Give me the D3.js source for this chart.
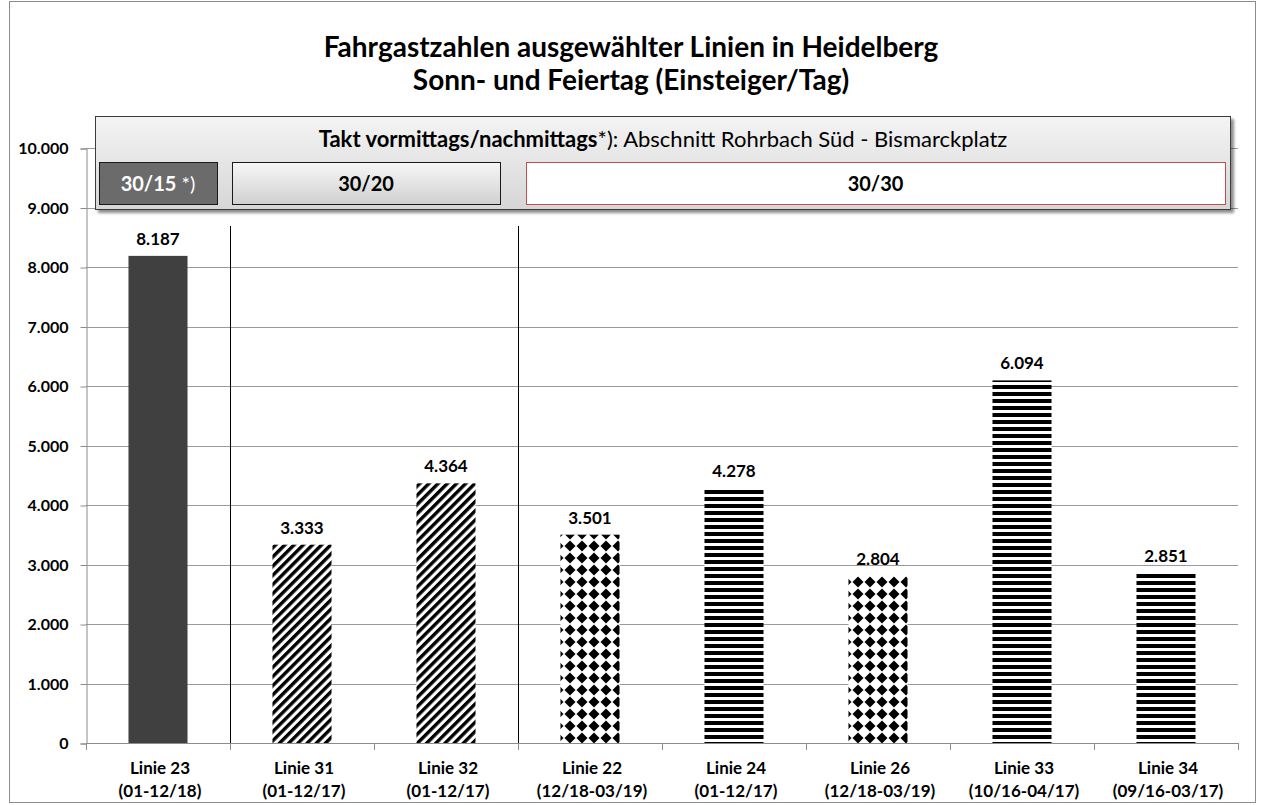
<!DOCTYPE html>
<html>
<head>
<meta charset="utf-8">
<script src="https://cdn.jsdelivr.net/npm/d3@7"></script>
<style>
    body { margin: 0; background: #fff; }
    text { font-family: Lato, "Open Sans", sans-serif; }
</style>
</head>
<body>
<script>
var linien = ["Linie 23", "Linie 31", "Linie 32", "Linie 22", "Linie 24", "Linie 26", "Linie 33", "Linie 34"];
var zeitraum = ["(01-12/18)", "(01-12/17)", "(01-12/17)", "(12/18-03/19)", "(01-12/17)", "(12/18-03/19)", "(10/16-04/17)", "(09/16-03/17)"];
var einsteiger = [8187, 3333, 4364, 3501, 4278, 2804, 6094, 2851];
var yTicks = [0, 1000, 2000, 3000, 4000, 5000, 6000, 7000, 8000, 9000, 10000];
var taktGruppen = ["30/15", "30/20", "30/30"];
var taktHinweis = [" *)", "", ""];
var taktVon = [0, 1, 3];

function graficar() {
    var width = 1262;
    var height = 805;

    var svg = d3.select('body')
        .append('svg')
        .attr('width', width)
        .attr('height', height);

    var defs = svg.append('defs');

    // Muster wie im Excel-Diagramm
    var diag = defs.append('pattern')
        .attr('id', 'diag')
        .attr('patternUnits', 'userSpaceOnUse')
        .attr('width', 6.5).attr('height', 10)
        .attr('patternTransform', 'rotate(45)');
    diag.append('rect').attr('width', 6.5).attr('height', 10).attr('fill', '#fff');
    diag.append('rect').attr('x', 0).attr('width', 3.4).attr('height', 10).attr('fill', '#000');

    var raute = defs.append('pattern')
        .attr('id', 'raute')
        .attr('patternUnits', 'userSpaceOnUse')
        .attr('width', 12).attr('height', 12);
    raute.append('rect').attr('width', 12).attr('height', 12).attr('fill', '#fff');
    raute.append('path').attr('d', 'M6,0.5 L11.5,6 L6,11.5 L0.5,6 Z').attr('fill', '#000');

    var horiz = defs.append('pattern')
        .attr('id', 'horiz')
        .attr('patternUnits', 'userSpaceOnUse')
        .attr('width', 8).attr('height', 7);
    horiz.append('rect').attr('width', 8).attr('height', 7).attr('fill', '#fff');
    horiz.append('rect').attr('y', 0).attr('width', 8).attr('height', 4).attr('fill', '#000');

    var grad = defs.append('linearGradient')
        .attr('id', 'kopf')
        .attr('x1', 0).attr('y1', 0).attr('x2', 0).attr('y2', 1);
    grad.append('stop').attr('offset', '0%').attr('stop-color', '#f4f4f4');
    grad.append('stop').attr('offset', '100%').attr('stop-color', '#d6d6d6');

    var grad2 = defs.append('linearGradient')
        .attr('id', 'knopf')
        .attr('x1', 0).attr('y1', 0).attr('x2', 0).attr('y2', 1);
    grad2.append('stop').attr('offset', '0%').attr('stop-color', '#f7f7f7');
    grad2.append('stop').attr('offset', '100%').attr('stop-color', '#d0d0d0');

    var schatten = defs.append('filter').attr('id', 'schatten')
        .attr('x', '-5%').attr('y', '-10%').attr('width', '110%').attr('height', '130%');
    schatten.append('feDropShadow')
        .attr('dx', 3).attr('dy', 3).attr('stdDeviation', 1.5)
        .attr('flood-color', '#000').attr('flood-opacity', 0.45);

    var fuellung = {
        "Linie 23": "#404040",
        "Linie 31": "url(#diag)",
        "Linie 32": "url(#diag)",
        "Linie 22": "url(#raute)",
        "Linie 24": "url(#horiz)",
        "Linie 26": "url(#raute)",
        "Linie 33": "url(#horiz)",
        "Linie 34": "url(#horiz)"
    };

    // Rahmen
    svg.append('rect')
        .attr('x', 9.5).attr('y', 1.5)
        .attr('width', 1246).attr('height', 801)
        .attr('fill', 'none')
        .attr('stroke', '#8c8c8c');

    var x = d3.scaleBand()
        .domain(linien)
        .range([86, 1238])
        .paddingInner(0.59)
        .paddingOuter(0.295);

    var y = d3.scaleLinear()
        .domain([0, 10000])
        .range([743, 148]);

    var de = d3.formatLocale({ decimal: ",", thousands: ".", grouping: [3], currency: ["", " €"] });
    var fmt = de.format(",d");

    // Gitterlinien
    svg.append('g')
        .selectAll('line')
        .data(yTicks.filter(function (d) { return d > 0; }))
        .enter().append('line')
        .attr('x1', 86).attr('x2', 1238)
        .attr('y1', function (d) { return Math.round(y(d)) + 0.5; })
        .attr('y2', function (d) { return Math.round(y(d)) + 0.5; })
        .attr('stroke', '#9a9a9a');

    // Achsen
    var yAxis = svg.append('g')
        .attr('transform', 'translate(86.5,0.5)')
        .call(d3.axisLeft(y).tickValues(yTicks).tickFormat(fmt).tickSize(6).tickPadding(12));
    yAxis.select('.domain').attr('stroke', '#8c8c8c');
    yAxis.selectAll('.tick line').attr('stroke', '#8c8c8c');
    yAxis.selectAll('text')
        .attr('fill', '#000')
        .style('font-size', '16px').style('font-weight', 'bold')
        .style('font-family', 'Lato, sans-serif');

    svg.append('line')
        .attr('x1', 86).attr('x2', 1238)
        .attr('y1', 743.5).attr('y2', 743.5)
        .attr('stroke', '#8c8c8c');

    var grenzen = linien.map(function (d) { return x(d) - x.step() * x.paddingInner() / 2; });
    grenzen.push(1238);
    svg.append('g')
        .selectAll('line')
        .data(grenzen)
        .enter().append('line')
        .attr('x1', function (d) { return Math.round(d) + 0.5; })
        .attr('x2', function (d) { return Math.round(d) + 0.5; })
        .attr('y1', 743).attr('y2', 750)
        .attr('stroke', '#8c8c8c');

    // Trennlinien zwischen Taktgruppen
    svg.append('g')
        .selectAll('line')
        .data(taktVon.slice(1))
        .enter().append('line')
        .attr('x1', function (d) { return Math.round(grenzen[d]) + 0.5; })
        .attr('x2', function (d) { return Math.round(grenzen[d]) + 0.5; })
        .attr('y1', 226).attr('y2', 743)
        .attr('stroke', '#000');

    // Balken
    svg.append('g')
        .selectAll('rect')
        .data(einsteiger)
        .enter().append('rect')
        .attr('x', function (d, i) { return x(linien[i]); })
        .attr('width', x.bandwidth())
        .attr('y', function (d) { return y(d); })
        .attr('height', function (d) { return y(0) - y(d); })
        .attr('fill', function (d, i) { return fuellung[linien[i]]; });

    svg.append('g')
        .selectAll('text')
        .data(einsteiger)
        .enter().append('text')
        .attr('x', function (d, i) { return x(linien[i]) + x.bandwidth() / 2; })
        .attr('y', function (d) { return y(d) - 11; })
        .attr('text-anchor', 'middle')
        .attr('font-size', 17)
        .attr('font-weight', 'bold')
        .text(function (d) { return fmt(d); });

    // Kategorien
    var kat = svg.append('g')
        .selectAll('text')
        .data(linien)
        .enter().append('text')
        .attr('x', function (d) { return x(d) + x.bandwidth() / 2 + 2; })
        .attr('y', 774)
        .attr('text-anchor', 'middle')
        .attr('font-size', 17)
        .attr('font-weight', 'bold');
    kat.append('tspan').text(function (d) { return d; });
    kat.append('tspan')
        .attr('x', function (d) { return x(d) + x.bandwidth() / 2 + 2; })
        .attr('dy', 23)
        .text(function (d, i) { return zeitraum[i]; });

    // Titel
    svg.append('text')
        .attr('x', 631).attr('y', 57)
        .attr('text-anchor', 'middle')
        .attr('font-size', 28).attr('font-weight', 'bold')
        .text('Fahrgastzahlen ausgewählter Linien in Heidelberg');
    svg.append('text')
        .attr('x', 631).attr('y', 90)
        .attr('text-anchor', 'middle')
        .attr('font-size', 28).attr('font-weight', 'bold')
        .text('Sonn- und Feiertag (Einsteiger/Tag)');

    // Kopfkasten mit Takt
    svg.append('rect')
        .attr('x', 95.5).attr('y', 116.5)
        .attr('width', 1135).attr('height', 93)
        .attr('fill', 'url(#kopf)')
        .attr('stroke', '#3a3a3a')
        .attr('filter', 'url(#schatten)');

    var kopf = svg.append('text')
        .attr('x', 663).attr('y', 147)
        .attr('text-anchor', 'middle')
        .attr('font-size', 22);
    kopf.append('tspan').attr('font-weight', 'bold').text('Takt vormittags/nachmittags');
    kopf.append('tspan').text('*): Abschnitt Rohrbach Süd - Bismarckplatz');

    var links = [99, 232, 526];
    var rechts = [217, 500, 1225];
    var fuellKasten = ['#6b6b6b', 'url(#knopf)', '#ffffff'];
    var randKasten = ['#1a1a1a', '#1a1a1a', '#c0504d'];
    var schriftKasten = ['#ffffff', '#000000', '#000000'];

    var kasten = svg.append('g')
        .selectAll('g')
        .data(taktGruppen)
        .enter().append('g');
    kasten.append('rect')
        .attr('x', function (d, i) { return links[i] + 0.5; })
        .attr('y', 162.5)
        .attr('width', function (d, i) { return rechts[i] - links[i]; })
        .attr('height', 42)
        .attr('fill', function (d, i) { return fuellKasten[i]; })
        .attr('stroke', function (d, i) { return randKasten[i]; });
    var kt = kasten.append('text')
        .attr('x', function (d, i) { return (links[i] + rechts[i]) / 2; })
        .attr('y', 191)
        .attr('text-anchor', 'middle')
        .attr('font-size', 20)
        .attr('fill', function (d, i) { return schriftKasten[i]; });
    kt.append('tspan').attr('font-weight', 'bold').text(function (d) { return d; });
    kt.append('tspan').text(function (d, i) { return taktHinweis[i]; });
}

graficar();
</script>
</body>
</html>
